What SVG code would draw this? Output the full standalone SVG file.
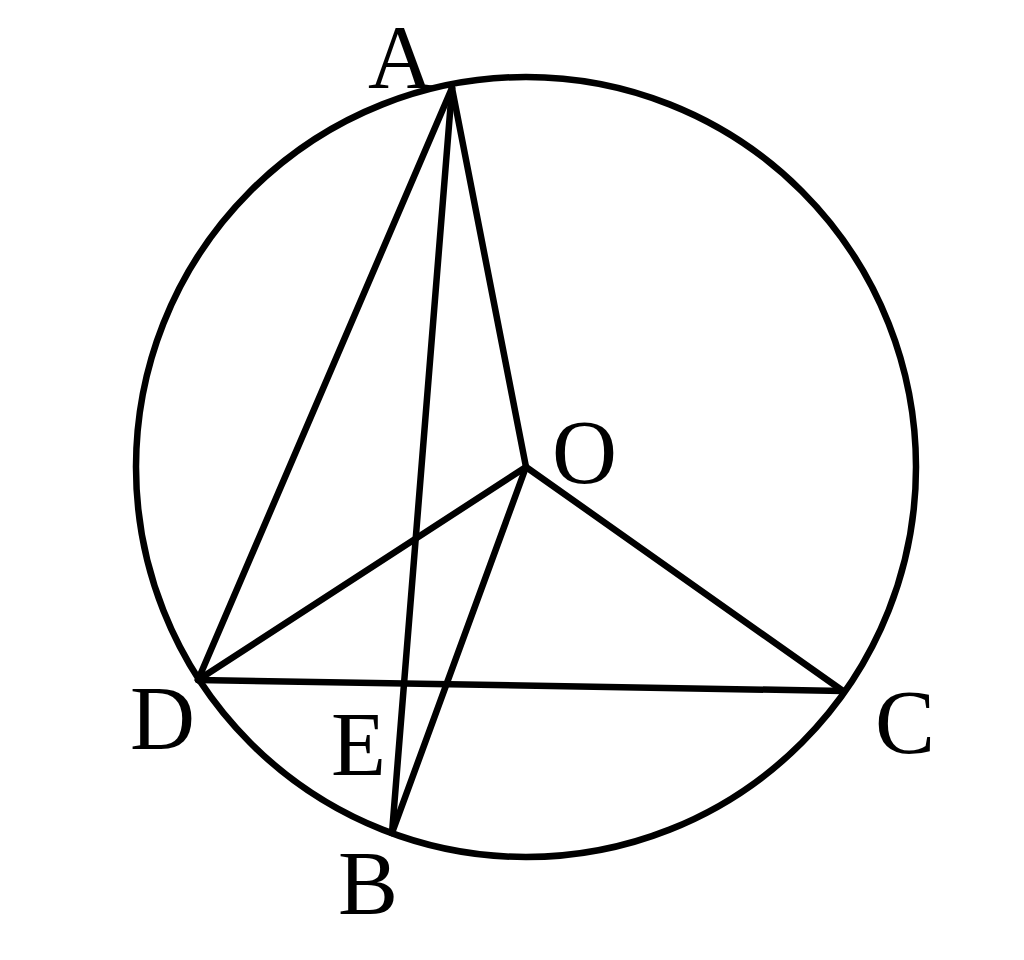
<svg xmlns="http://www.w3.org/2000/svg" width="1024" height="960" viewBox="0 0 1024 960">
<style>
.ln{stroke:#000;stroke-width:6.5;fill:none;stroke-linecap:round;stroke-linejoin:round}
.lb{font-family:"Liberation Serif","Times New Roman",serif;font-size:90px;fill:#000}
</style>
<rect width="1024" height="960" fill="#fff"/>
<g id="circle"><circle class="ln" cx="526" cy="467" r="390"/></g>
<g id="connectors">
<line class="ln" x1="452" y1="88" x2="198" y2="680"/>
<line class="ln" x1="452" y1="88" x2="392" y2="833"/>
<line class="ln" x1="452" y1="88" x2="526" y2="467"/>
<line class="ln" x1="526" y1="467" x2="198" y2="680"/>
<line class="ln" x1="526" y1="467" x2="843" y2="691"/>
<line class="ln" x1="526" y1="467" x2="392" y2="833"/>
<line class="ln" x1="198" y1="680" x2="843" y2="691"/>
</g>
<g id="A"><text class="lb" x="368" y="88">A</text></g>
<g id="O"><text class="lb" x="552" y="483">O</text></g>
<g id="D"><text class="lb" x="130" y="749">D</text></g>
<g id="C"><text class="lb" x="875" y="753">C</text></g>
<g id="E"><text class="lb" x="331" y="775">E</text></g>
<g id="B"><text class="lb" x="338" y="914">B</text></g>
</svg>
